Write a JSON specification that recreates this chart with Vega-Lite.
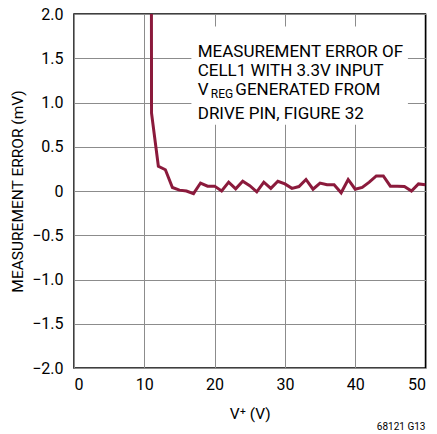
{
  "$schema": "https://vega.github.io/schema/vega-lite/v6.json",
  "width": 351.5,
  "height": 354,
  "autosize": {"type": "none"},
  "padding": {"left": 74, "top": 14, "right": 11.5, "bottom": 66},
  "config": {
    "font": "Roboto, sans-serif",
    "background": "white",
    "view": {"stroke": "#000", "strokeWidth": 1.5},
    "axis": {
      "grid": true,
      "gridColor": "#8c8c8c",
      "gridWidth": 1,
      "ticks": false,
      "domain": false,
      "labelFontSize": 16,
      "labelColor": "#000",
      "titleFontSize": 15.5,
      "titleFontWeight": "normal",
      "titleColor": "#000"
    }
  },
  "title": {
    "text": "68121 G13",
    "orient": "bottom",
    "anchor": "end",
    "fontSize": 10,
    "fontWeight": "normal",
    "color": "#000",
    "offset": 0
  },
  "data": {
    "values": [
      {"v": 11.0, "err": 3.0},
      {"v": 11.03, "err": 0.88},
      {"v": 12, "err": 0.28},
      {"v": 13, "err": 0.24},
      {"v": 14, "err": 0.04},
      {"v": 15, "err": 0.01},
      {"v": 16, "err": 0.0},
      {"v": 17, "err": -0.03},
      {"v": 18, "err": 0.09},
      {"v": 19, "err": 0.055},
      {"v": 20, "err": 0.055},
      {"v": 21, "err": 0.0},
      {"v": 22, "err": 0.1},
      {"v": 23, "err": 0.025},
      {"v": 24, "err": 0.11},
      {"v": 25, "err": 0.06},
      {"v": 26, "err": -0.01},
      {"v": 27, "err": 0.1},
      {"v": 28, "err": 0.03},
      {"v": 29, "err": 0.11},
      {"v": 30, "err": 0.08},
      {"v": 31, "err": 0.03},
      {"v": 32, "err": 0.05},
      {"v": 33, "err": 0.13},
      {"v": 34, "err": 0.02},
      {"v": 35, "err": 0.09},
      {"v": 36, "err": 0.07},
      {"v": 37, "err": 0.07},
      {"v": 38, "err": -0.02},
      {"v": 39, "err": 0.13},
      {"v": 40, "err": 0.02},
      {"v": 41, "err": 0.04},
      {"v": 42, "err": 0.1},
      {"v": 43, "err": 0.17},
      {"v": 44, "err": 0.17},
      {"v": 45, "err": 0.055},
      {"v": 46, "err": 0.055},
      {"v": 47, "err": 0.05},
      {"v": 48, "err": 0.0},
      {"v": 49, "err": 0.08},
      {"v": 50, "err": 0.07}
    ]
  },
  "layer": [
    {
      "mark": {"type": "line", "color": "#8b1a3c", "strokeWidth": 3, "clip": true},
      "encoding": {
        "x": {
          "field": "v",
          "type": "quantitative",
          "scale": {"domain": [0, 50], "nice": false},
          "axis": {"values": [0, 10, 20, 30, 40, 50], "title": "V⁺ (V)", "labelPadding": 8, "titlePadding": 14}
        },
        "y": {
          "field": "err",
          "type": "quantitative",
          "scale": {"domain": [-2, 2], "nice": false},
          "axis": {
            "values": [-2, -1.5, -1, -0.5, 0, 0.5, 1, 1.5, 2],
            "labelExpr": "datum.value == 0 ? '0' : format(datum.value, '.1f')",
            "title": "MEASUREMENT ERROR (mV)",
            "labelPadding": 11,
            "titlePadding": 6
          }
        }
      }
    },
    {
      "data": {"values": [{}]},
      "mark": {"type": "rect", "fill": "white"},
      "encoding": {
        "x": {"datum": 16.7, "type": "quantitative"},
        "x2": {"datum": 47.5},
        "y": {"datum": 1.86, "type": "quantitative"},
        "y2": {"datum": 0.75}
      }
    },
    {
      "data": {"values": [{}]},
      "mark": {"type": "text", "text": "MEASUREMENT ERROR OF", "align": "left", "baseline": "alphabetic", "fontSize": 17, "color": "#000"},
      "encoding": {"x": {"datum": 17.6, "type": "quantitative"}, "y": {"datum": 1.517, "type": "quantitative"}}
    },
    {
      "data": {"values": [{}]},
      "mark": {"type": "text", "text": "CELL1 WITH 3.3V INPUT", "align": "left", "baseline": "alphabetic", "fontSize": 17, "color": "#000"},
      "encoding": {"x": {"datum": 17.6, "type": "quantitative"}, "y": {"datum": 1.303, "type": "quantitative"}}
    },
    {
      "data": {"values": [{}]},
      "mark": {"type": "text", "text": "V", "align": "left", "baseline": "alphabetic", "fontSize": 17, "color": "#000"},
      "encoding": {"x": {"datum": 17.6, "type": "quantitative"}, "y": {"datum": 1.085, "type": "quantitative"}}
    },
    {
      "data": {"values": [{}]},
      "mark": {"type": "text", "text": "REG", "align": "left", "baseline": "alphabetic", "fontSize": 12, "color": "#000"},
      "encoding": {"x": {"datum": 19.45, "type": "quantitative"}, "y": {"datum": 1.05, "type": "quantitative"}}
    },
    {
      "data": {"values": [{}]},
      "mark": {"type": "text", "text": "GENERATED FROM", "align": "left", "baseline": "alphabetic", "fontSize": 17, "color": "#000"},
      "encoding": {"x": {"datum": 22.95, "type": "quantitative"}, "y": {"datum": 1.085, "type": "quantitative"}}
    },
    {
      "data": {"values": [{}]},
      "mark": {"type": "text", "text": "DRIVE PIN, FIGURE 32", "align": "left", "baseline": "alphabetic", "fontSize": 17, "color": "#000"},
      "encoding": {"x": {"datum": 17.6, "type": "quantitative"}, "y": {"datum": 0.815, "type": "quantitative"}}
    }
  ]
}
